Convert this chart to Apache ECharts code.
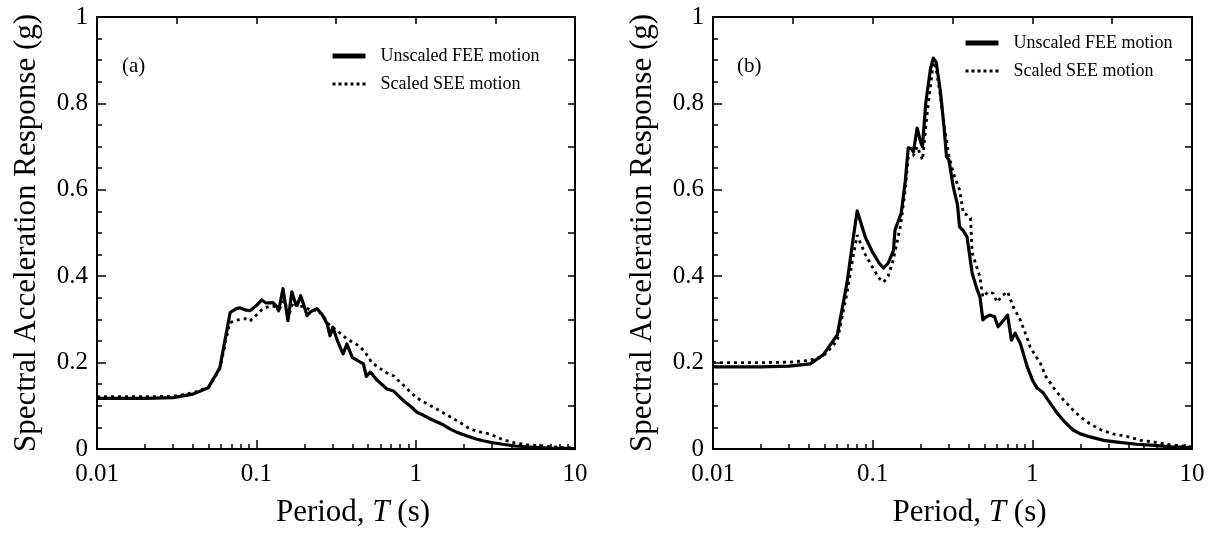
<!DOCTYPE html>
<html><head><meta charset="utf-8">
<script src="https://cdn.jsdelivr.net/npm/echarts@6/dist/echarts.min.js"></script>
<style>html,body{margin:0;padding:0;background:#fff}#c{width:1211px;height:535px}</style>
</head><body><div id="c"></div>
<script>
// ---------- data (period T in s, spectral acceleration in g) ----------
const periodsA_FEE = [0.01,0.02,0.03,0.04,0.05,0.059,0.0685,0.075,0.079,0.085,0.0912,0.1,0.108,0.115,0.127,0.134,0.138,0.147,0.158,0.167,0.175,0.18,0.19,0.2,0.208,0.22,0.24,0.26,0.278,0.29,0.302,0.325,0.35,0.37,0.4,0.43,0.47,0.49,0.52,0.57,0.62,0.66,0.72,0.76,0.85,0.92,1.02,1.12,1.23,1.35,1.49,1.65,1.83,2.1,2.4,2.65,3.0,3.5,4.2,5.5,7,10];
const saA_FEE      = [0.117,0.117,0.119,0.127,0.142,0.188,0.316,0.325,0.327,0.322,0.32,0.332,0.345,0.338,0.339,0.33,0.32,0.371,0.297,0.364,0.34,0.332,0.355,0.33,0.309,0.318,0.325,0.31,0.29,0.262,0.282,0.248,0.22,0.243,0.212,0.205,0.197,0.168,0.178,0.16,0.148,0.139,0.135,0.127,0.11,0.1,0.085,0.078,0.07,0.063,0.056,0.046,0.038,0.03,0.023,0.019,0.015,0.011,0.007,0.004,0.002,0.001];

const periodsA_SEE = [0.01,0.02,0.03,0.04,0.05,0.059,0.068,0.075,0.085,0.0912,0.1,0.11,0.12,0.13,0.14,0.15,0.16,0.17,0.18,0.2,0.22,0.24,0.26,0.29,0.32,0.35,0.39,0.44,0.48,0.53,0.6,0.66,0.73,0.85,1.02,1.2,1.35,1.55,1.83,2.2,2.5,2.9,3.5,4.2,5,6.3,8,10];
const saA_SEE      = [0.121,0.121,0.122,0.13,0.143,0.185,0.292,0.298,0.302,0.296,0.31,0.325,0.33,0.33,0.325,0.345,0.31,0.34,0.33,0.33,0.32,0.322,0.31,0.285,0.275,0.262,0.25,0.239,0.225,0.2,0.186,0.176,0.169,0.145,0.118,0.103,0.093,0.08,0.065,0.046,0.04,0.035,0.022,0.014,0.01,0.007,0.004,0.002];

const periodsB_FEE = [0.01,0.02,0.03,0.0406,0.049,0.06,0.069,0.075,0.08,0.09,0.1,0.11,0.117,0.125,0.135,0.138,0.151,0.16,0.167,0.175,0.18,0.19,0.2,0.205,0.215,0.23,0.24,0.25,0.265,0.28,0.29,0.3,0.32,0.34,0.35,0.37,0.39,0.42,0.45,0.47,0.49,0.51,0.54,0.58,0.61,0.65,0.7,0.74,0.78,0.84,0.93,1.0,1.07,1.17,1.3,1.43,1.6,1.8,2.0,2.3,2.8,3.4,4.5,5.5,7.5,10];
const saB_FEE      = [0.19,0.19,0.192,0.197,0.218,0.264,0.384,0.48,0.551,0.49,0.455,0.43,0.419,0.43,0.46,0.507,0.546,0.62,0.697,0.695,0.688,0.743,0.71,0.7,0.8,0.88,0.905,0.895,0.831,0.745,0.676,0.67,0.606,0.565,0.514,0.505,0.491,0.407,0.37,0.352,0.299,0.305,0.31,0.306,0.283,0.295,0.31,0.252,0.268,0.245,0.19,0.16,0.141,0.13,0.105,0.083,0.062,0.044,0.035,0.028,0.02,0.016,0.011,0.009,0.005,0.003];

const periodsB_SEE = [0.01,0.02,0.03,0.04,0.049,0.06,0.069,0.075,0.08,0.09,0.1,0.11,0.117,0.125,0.135,0.15,0.16,0.167,0.18,0.19,0.205,0.22,0.24,0.25,0.265,0.28,0.3,0.32,0.35,0.37,0.39,0.41,0.42,0.45,0.47,0.49,0.53,0.57,0.6,0.65,0.7,0.76,0.84,0.9,0.97,1.05,1.12,1.22,1.4,1.57,1.8,2.0,2.3,2.7,3.2,4.0,4.8,5.8,7.5,10];
const saB_SEE      = [0.2,0.2,0.201,0.205,0.215,0.25,0.36,0.44,0.495,0.45,0.42,0.395,0.386,0.4,0.44,0.52,0.6,0.676,0.68,0.7,0.669,0.78,0.896,0.88,0.82,0.75,0.68,0.639,0.6,0.545,0.542,0.535,0.454,0.42,0.398,0.352,0.364,0.36,0.34,0.355,0.364,0.329,0.299,0.27,0.236,0.215,0.199,0.167,0.135,0.113,0.09,0.074,0.058,0.044,0.035,0.028,0.02,0.016,0.009,0.005];

const seriesNames = ['Unscaled FEE motion', 'Scaled SEE motion'];
const panelLabels = ['(a)', '(b)'];
const xTickLabels = [0.01, 0.1, 1, 10];
const yTickLabels = [0, 0.2, 0.4, 0.6, 0.8, 1];
const xTitle = 'Period, {i|T} (s)';
const yTitle = 'Spectral Acceleration Response (g)';

// ---------- helpers ----------
const FONT = 'Liberation Serif';
const zip = (xs, ys) => xs.map((x, i) => [x, ys[i]]);
const minorX = [];
[0.01, 0.1, 1].forEach(d => { for (let k = 2; k <= 9; k++) minorX.push(+(d * k).toPrecision(3)); });
const topX = [-1.5, -1, -0.5, 0, 0.5].map(e => Math.pow(10, e));

const grids = [
  { left: 97, top: 17, width: 478, height: 432 },
  { left: 713, top: 17, width: 479, height: 432 }
];

const xAxes = [], yAxes = [], series = [], legends = [], titles = [];
const panels = [[zip(periodsA_FEE, saA_FEE), zip(periodsA_SEE, saA_SEE)],
                [zip(periodsB_FEE, saB_FEE), zip(periodsB_SEE, saB_SEE)]];
const line = { lineStyle: { color: '#000', width: 2 } };

grids.forEach((g, gi) => {
  const xBase = { type: 'log', logBase: 10, min: 0.01, max: 10, gridIndex: gi, splitLine: { show: false } };
  xAxes.push(Object.assign({}, xBase, {
    position: 'bottom',
    axisLine: line,
    axisTick: { inside: true, length: 9, lineStyle: { color: '#000', width: 1.5 }, customValues: xTickLabels },
    axisLabel: { customValues: xTickLabels, formatter: v => String(v), fontFamily: FONT, fontSize: 25, color: '#000', margin: 13 },
    name: xTitle, nameLocation: 'middle', nameGap: 48,
    nameTextStyle: { fontFamily: FONT, fontSize: 31, color: '#000', padding: [0, 0, 0, 34],
      rich: { i: { fontFamily: FONT, fontSize: 31, fontStyle: 'italic', color: '#000' } } }
  }));
  xAxes.push(Object.assign({}, xBase, {
    position: 'bottom',
    axisLine: { show: false },
    axisTick: { inside: true, length: 5, lineStyle: { color: '#000', width: 1.5 }, customValues: minorX },
    axisLabel: { show: false }
  }));
  xAxes.push(Object.assign({}, xBase, {
    position: 'top',
    axisLine: line,
    axisTick: { inside: true, length: 7, lineStyle: { color: '#000', width: 1.5 }, customValues: topX },
    axisLabel: { show: false }
  }));
  yAxes.push({
    type: 'value', min: 0, max: 1, interval: 0.2, gridIndex: gi, position: 'left',
    splitLine: { show: false },
    axisLine: line,
    axisTick: { inside: true, length: 9, lineStyle: { color: '#000', width: 1.5 } },
    minorTick: { show: true, splitNumber: 4, length: 5, lineStyle: { color: '#000', width: 1.5 } },
    axisLabel: { fontFamily: FONT, fontSize: 25, color: '#000', margin: 9, formatter: v => String(+v.toFixed(1)) },
    name: yTitle, nameLocation: 'middle', nameGap: 55,
    nameTextStyle: { fontFamily: FONT, fontSize: 31, color: '#000' }
  });
  yAxes.push({
    type: 'value', min: 0, max: 1, interval: 0.1, gridIndex: gi, position: 'right',
    splitLine: { show: false },
    axisLine: line,
    axisTick: { inside: true, length: 7, lineStyle: { color: '#000', width: 1.5 } },
    axisLabel: { show: false }
  });
  const [fee, see] = panels[gi];
  series.push({
    name: seriesNames[0], type: 'line', xAxisIndex: gi * 3, yAxisIndex: gi * 2, data: fee,
    symbol: 'none', lineStyle: { color: '#000', width: 3.2, join: 'round' }, itemStyle: { color: '#000' }, z: 3
  });
  series.push({
    name: seriesNames[1], type: 'line', xAxisIndex: gi * 3, yAxisIndex: gi * 2, data: see,
    symbol: 'none', lineStyle: { color: '#000', width: 2.8, type: [3, 4], cap: 'butt' }, itemStyle: { color: '#000' }, z: 2
  });
  legends.push({
    orient: 'vertical', left: gi === 0 ? 330 : 963, top: gi === 0 ? 47 : 34,
    itemWidth: 33, itemHeight: 12, itemGap: 10, padding: 0,
    selectedMode: false,
    textStyle: { fontFamily: FONT, fontSize: 18, color: '#000', padding: [0, 0, 0, 10] },
    data: [
      { name: seriesNames[0], lineStyle: { width: 5, color: '#000' }, itemStyle: { color: 'rgba(0,0,0,0)', borderWidth: 0 } },
      { name: seriesNames[1], lineStyle: { width: 3, color: '#000', type: [3, 3] }, itemStyle: { color: 'rgba(0,0,0,0)', borderWidth: 0 } }
    ]
  });
  titles.push({
    text: panelLabels[gi], left: gi === 0 ? 122 : 737, top: 56, padding: 0,
    textStyle: { fontFamily: FONT, fontSize: 21, fontWeight: 'normal', color: '#000' }
  });
});

const chart = echarts.init(document.getElementById('c'), null, { renderer: 'canvas' });
chart.setOption({
  animation: false,
  backgroundColor: '#fff',
  title: titles,
  legend: legends,
  grid: grids,
  xAxis: xAxes,
  yAxis: yAxes,
  series: series
});
</script>
</body></html>
